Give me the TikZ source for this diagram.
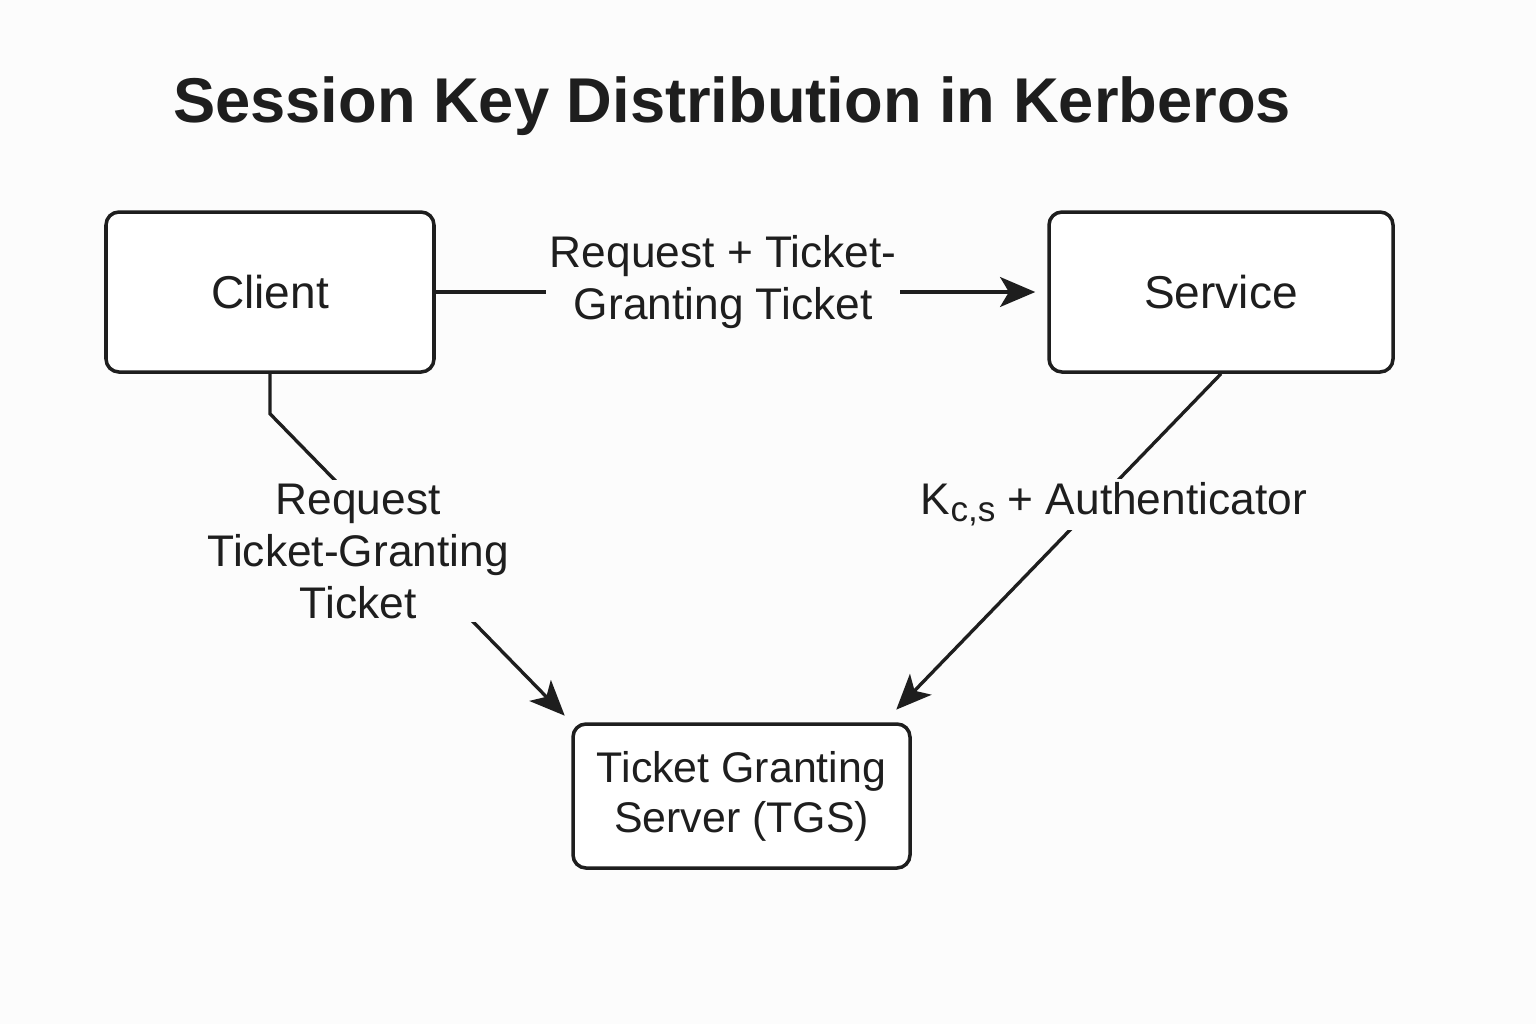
\documentclass[tikz,border=0pt]{standalone}
\usepackage{fontspec}
\setmainfont{Liberation Sans}
\usepackage{tikz}
\usetikzlibrary{arrows.meta}
\definecolor{ink}{HTML}{1E1E1E}
\definecolor{paper}{HTML}{FCFCFC}

\begin{document}
\begin{tikzpicture}[inner sep=0pt]
    
    \tikzstyle{box}=[rectangle, rounded corners=1.3mm, draw=ink, line width=1pt, fill=white, text=ink] \tikzstyle{msg}=[-{Stealth[length=10pt,width=8.5pt,inset=2.5pt]}, draw=ink, line width=0.95pt, shorten >=0.5mm] \tikzstyle{lbl}=[fill=paper, text=ink, align=center, font=\fontsize{12.6}{14.8}\selectfont, inner sep=1pt]
    
    \useasboundingbox[fill=paper] (0,0) rectangle (15.36,-10.24);
    \node[text=ink, font=\fontsize{18}{22}\selectfont\bfseries, anchor=base] (title) at (7.32,-1.22) {Session Key Distribution in Kerberos};
    
    \node[box, minimum width=3.28cm, minimum height=1.60cm, font=\fontsize{13.1}{16}\selectfont] (client) at (2.70,-2.92) {Client}; \node[box, minimum width=3.44cm, minimum height=1.60cm, font=\fontsize{13.1}{16}\selectfont] (service) at (12.21,-2.92) {Service}; \node[box, minimum width=3.37cm, minimum height=1.44cm, align=center, font=\fontsize{12.2}{14.2}\selectfont] (tgs) at (7.415,-7.96) {Ticket Granting\\Server (TGS)};
    
    \draw[msg, shorten >=1.2mm] (client) to node[lbl, pos=0.47, yshift=1.0mm] {Request + Ticket-\\Granting Ticket} (service) ;
    \draw[msg] (client.south) -- ++(0,-0.40) to node[lbl, pos=0.45, xshift=-4.6mm] {Request\\Ticket-Granting\\Ticket} ([xshift=-0.3mm, yshift=0.3mm] tgs.north west) ;
    \draw[msg] (service.south) to node[lbl, pos=0.372, xshift=1.5mm, yshift=-0.4mm] {K\raisebox{-0.32ex}{\fontsize{10}{10}\selectfont c,s} + Authenticator} ([xshift=-1.9mm, yshift=0.9mm] tgs.north east) ;
  \end{tikzpicture}
\end{document}
